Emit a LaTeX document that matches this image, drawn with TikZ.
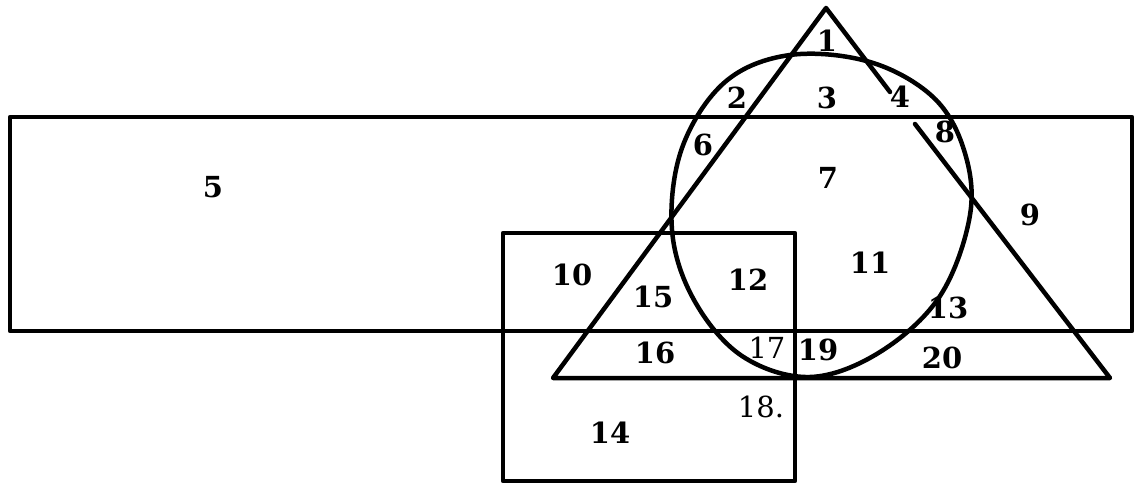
\documentclass[tikz,border=0pt]{standalone}
\usepackage{fontspec}
\setmainfont{DejaVu Serif}
\begin{document}
\begin{tikzpicture}[x=1pt,y=-1pt,
  shape line/.style={line width=4.5pt,line join=round,line cap=round},
  num/.style={font=\fontsize{29}{31}\selectfont\bfseries,inner sep=0pt},
  numlight/.style={font=\fontsize{29}{31}\selectfont,inner sep=0pt}]
\useasboundingbox[fill=white] (0,0) rectangle (1136,484);
% big rectangle
\draw[shape line] (10,117) rectangle (1132,331);
% small rectangle
\draw[shape line] (503,233) rectangle (795,481);
% triangle
\coordinate (apex) at (826,8);
\coordinate (bl) at (553,378);
\coordinate (br) at (1110,378);
\coordinate (gapA) at (890,92);
\coordinate (gapB) at (915,124);
\draw[shape line] (gapA) -- (apex) -- (bl) -- (br) -- (gapB);
% circle (hand-drawn)
\draw[shape line] plot[smooth cycle,tension=0.6] coordinates {
 (790,55) (870,62) (933,97) (964,150) (970,215) (940,296) (880,352)
 (810,377) (742,356) (694,300) (672,230) (682,148) (725,82)};
% labels
\node[num] (n1) at (827,41) {1};
\node[num] (n2) at (737,98) {2};
\node[num] (n3) at (827,98) {3};
\node[num] (n4) at (900,97) {4};
\node[num] (n5) at (213,187) {5};
\node[num] (n6) at (703,145) {6};
\node[num] (n7) at (828,178) {7};
\node[num] (n8) at (945,132) {8};
\node[num] (n9) at (1030,215) {9};
\node[num] (n10) at (572,275) {10};
\node[num] (n11) at (870,263) {11};
\node[num] (n12) at (748,280) {12};
\node[num] (n13) at (948,308) {13};
\node[num] (n14) at (610,433) {14};
\node[num] (n15) at (653,297) {15};
\node[num] (n16) at (655,353) {16};
\node[numlight] (n17) at (767,348) {17};
\node[numlight] (n18) at (761,407) {18.};
\node[num] (n19) at (818,350) {19};
\node[num] (n20) at (942,358) {20};
\end{tikzpicture}
\end{document}
